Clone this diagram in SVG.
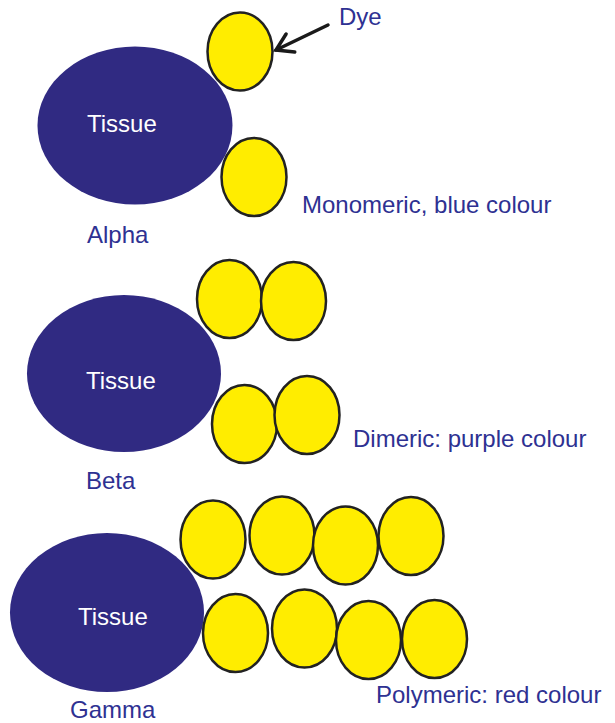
<svg xmlns="http://www.w3.org/2000/svg" width="615" height="723" viewBox="0 0 615 723">
<style>
.tissue{fill:#302a82}
.dye{fill:#ffed00;stroke:#222;stroke-width:2.5}
.tt{font-family:"Liberation Sans",Arial,sans-serif;font-size:24px;fill:#fff}
.lbl{font-family:"Liberation Sans",Arial,sans-serif;font-size:24px;fill:#2e3192}
.conn{fill:none;stroke:#1a1a1a;stroke-width:3.5;stroke-linecap:round}
</style>
<defs>
<marker id="open" markerUnits="userSpaceOnUse" viewBox="-20 -12 24 24" refX="0" refY="0" markerWidth="24" markerHeight="24" orient="auto">
<path d="M-16,-10 L0,0 L-16,10" fill="none" stroke="#1a1a1a" stroke-width="3.5" stroke-linecap="round" stroke-linejoin="miter"/>
</marker>
</defs>
<rect width="615" height="723" fill="#fff"/>

<g id="alpha">
<ellipse class="tissue" cx="135" cy="125.5" rx="97.5" ry="79"/>
<text class="tt" x="87" y="132">Tissue</text>
<ellipse class="dye" cx="240" cy="51.5" rx="32.5" ry="39"/>
<ellipse class="dye" cx="254" cy="177" rx="32.5" ry="39"/>
<text class="lbl" x="302" y="213">Monomeric, blue colour</text>
<text class="lbl" x="87" y="243">Alpha</text>
</g>

<g id="dye-label">
<text class="lbl" x="339" y="25">Dye</text>
</g>

<g id="beta">
<ellipse class="tissue" cx="124" cy="373.5" rx="97" ry="78.5"/>
<text class="tt" x="86" y="389">Tissue</text>
<ellipse class="dye" cx="229.5" cy="299" rx="32.5" ry="39"/>
<ellipse class="dye" cx="293.5" cy="301" rx="32.5" ry="39"/>
<ellipse class="dye" cx="244.5" cy="424" rx="32.5" ry="39"/>
<ellipse class="dye" cx="307" cy="415" rx="32.5" ry="39"/>
<text class="lbl" x="353" y="447">Dimeric: purple colour</text>
<text class="lbl" x="86" y="489">Beta</text>
</g>

<g id="gamma">
<ellipse class="tissue" cx="107" cy="612.5" rx="97" ry="79.5"/>
<text class="tt" x="78" y="625">Tissue</text>
<ellipse class="dye" cx="213" cy="539.5" rx="32.5" ry="39"/>
<ellipse class="dye" cx="282" cy="535.5" rx="32.5" ry="39"/>
<ellipse class="dye" cx="345.5" cy="545.5" rx="32.5" ry="39"/>
<ellipse class="dye" cx="411" cy="536" rx="32.5" ry="39"/>
<ellipse class="dye" cx="235.5" cy="633" rx="32.5" ry="39"/>
<ellipse class="dye" cx="304.5" cy="628.5" rx="32.5" ry="39"/>
<ellipse class="dye" cx="368.5" cy="640" rx="32.5" ry="39"/>
<ellipse class="dye" cx="434.5" cy="639" rx="32.5" ry="39"/>
<text class="lbl" x="376" y="703">Polymeric: red colour</text>
<text class="lbl" x="70" y="718">Gamma</text>
</g>

<g id="connectors">
<line class="conn" x1="328" y1="25" x2="276" y2="50" marker-end="url(#open)"/>
</g>
</svg>
